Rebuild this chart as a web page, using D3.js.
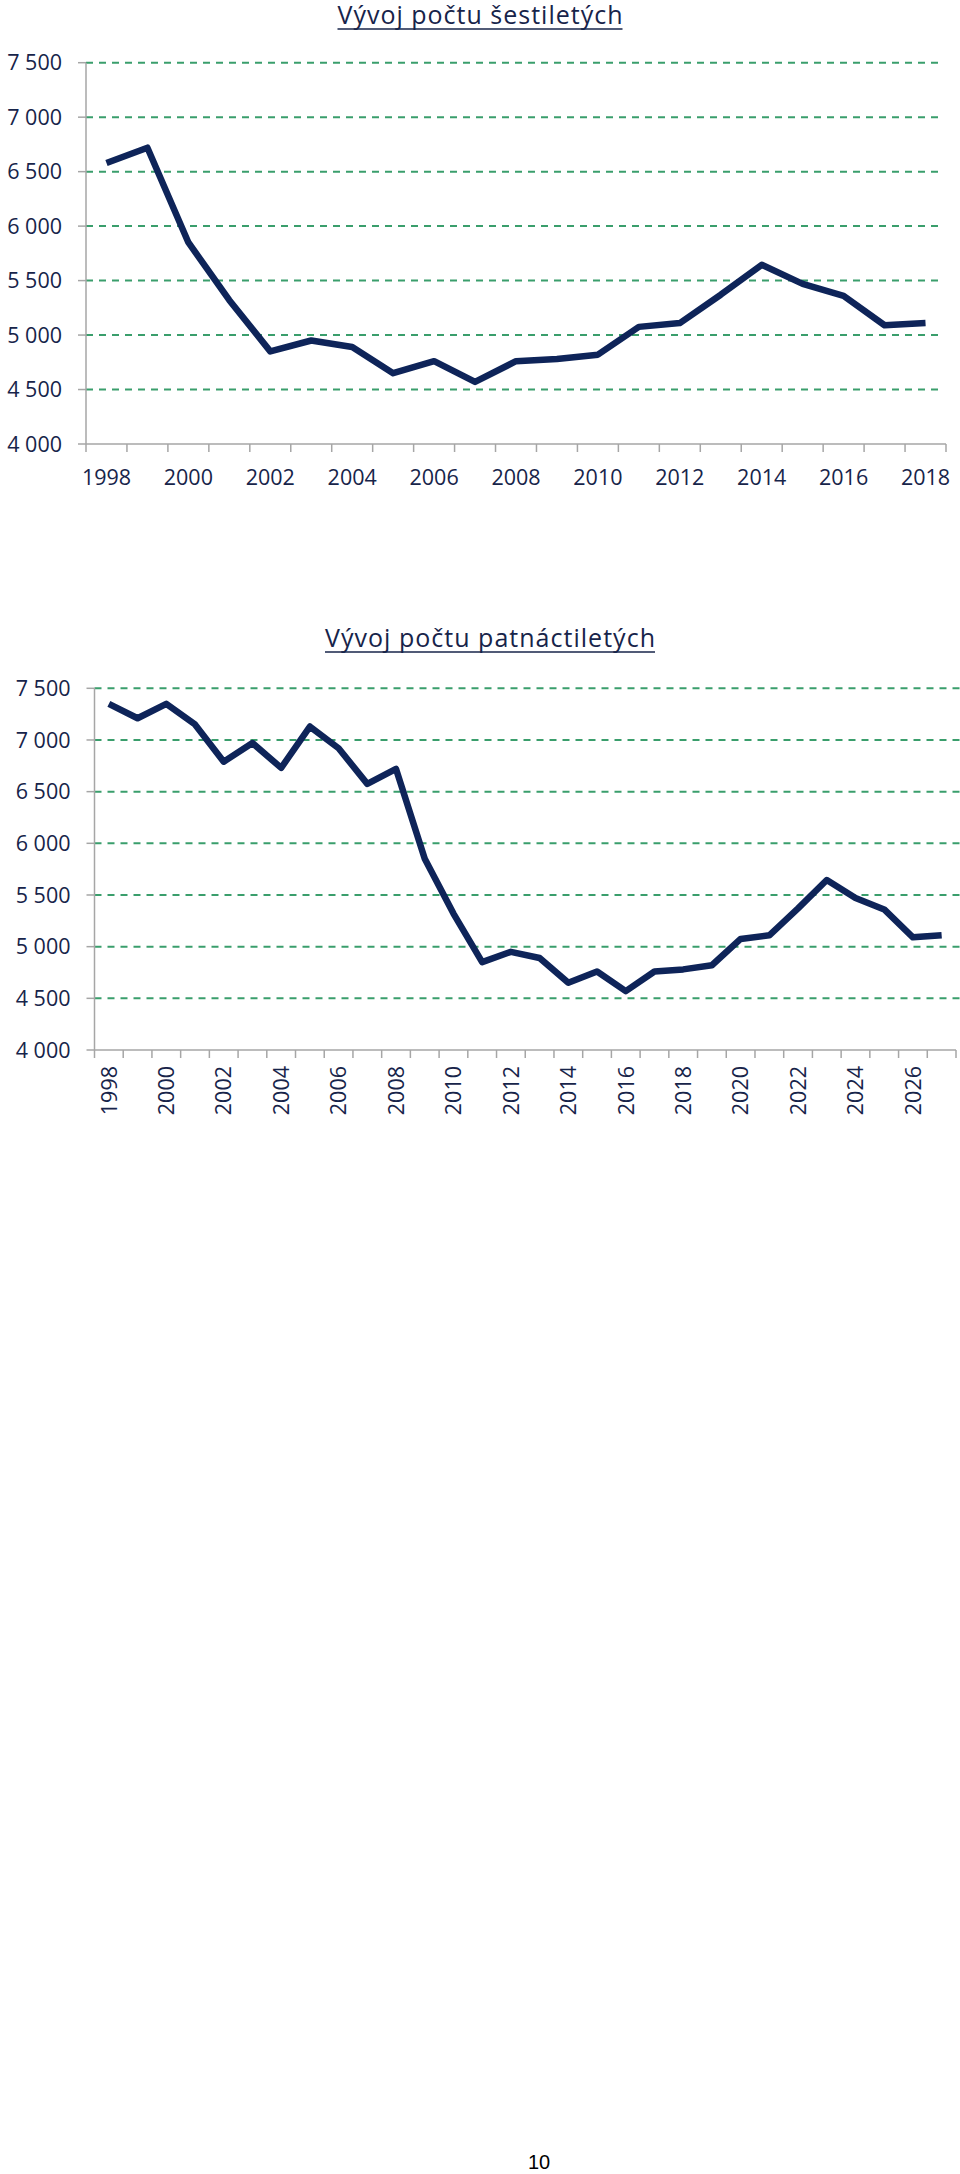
<!DOCTYPE html>
<html>
<head>
<meta charset="utf-8">
<script src="https://cdn.jsdelivr.net/npm/d3@7"></script>
<style>
  html, body { margin: 0; padding: 0; background: #ffffff; }
  svg { display: block; }
</style>
</head>
<body>
<svg id="page" width="960" height="2174"></svg>
<script>
// ---- data ----
const title1 = "Vývoj počtu šestiletých";
const years1 = [1998,1999,2000,2001,2002,2003,2004,2005,2006,2007,2008,2009,2010,2011,2012,2013,2014,2015,2016,2017,2018];
const sixYearOlds = [6580,6720,5850,5320,4850,4950,4890,4650,4760,4570,4760,4780,4820,5075,5110,5370,5645,5470,5360,5090,5110];

const title2 = "Vývoj počtu patnáctiletých";
const years2 = [1998,1999,2000,2001,2002,2003,2004,2005,2006,2007,2008,2009,2010,2011,2012,2013,2014,2015,2016,2017,2018,2019,2020,2021,2022,2023,2024,2025,2026,2027];
const fifteenYearOlds = [7350,7210,7350,7150,6790,6970,6730,7130,6920,6575,6720,5850,5320,4850,4950,4890,4650,4760,4570,4760,4780,4820,5075,5110,5370,5645,5470,5360,5090,5110];

const yTicks = [4000,4500,5000,5500,6000,6500,7000,7500];
const pageNumber = "10";

// ---- styles ----
const FONT = "'Open Sans', sans-serif";
const TEXT = "#17244a";
const LINE = "#0e2459";
const GRID = "#3a9e6c";
const AXIS = "#a6a6a6";

const fmt = d3.formatLocale({decimal: ",", thousands: "\u00a0", grouping: [3], currency: ["", ""]}).format(",d");
const svg = d3.select("#page");

function drawChart(cfg) {
  const g = svg.append("g");
  const x = d3.scaleBand().domain(cfg.years).range([cfg.left, cfg.right]).padding(0);
  const y = d3.scaleLinear().domain([4000, 7500]).range([cfg.bottom, cfg.top]);

  // title
  g.append("text")
    .attr("x", cfg.titleX).attr("y", cfg.titleY)
    .attr("text-anchor", "middle")
    .attr("font-family", FONT).attr("font-size", cfg.titleSize)
    .attr("textLength", cfg.titleWidth).attr("lengthAdjust", "spacing")
    .attr("fill", TEXT)
    .text(cfg.title);
  g.append("line")
    .attr("x1", cfg.titleX - cfg.titleWidth / 2).attr("x2", cfg.titleX + cfg.titleWidth / 2)
    .attr("y1", cfg.titleY + 5).attr("y2", cfg.titleY + 5)
    .attr("stroke", TEXT).attr("stroke-width", 1.5);

  // gridlines (except baseline)
  g.append("g").selectAll("line").data(yTicks.filter(d => d > 4000)).join("line")
    .attr("x1", cfg.left).attr("x2", cfg.gridRight)
    .attr("y1", d => y(d)).attr("y2", d => y(d))
    .attr("stroke", GRID).attr("stroke-width", 2)
    .attr("stroke-dasharray", "7,6");

  // y tick marks
  g.append("g").selectAll("line").data(yTicks).join("line")
    .attr("x1", cfg.left - 8).attr("x2", cfg.left)
    .attr("y1", d => y(d)).attr("y2", d => y(d))
    .attr("stroke", AXIS).attr("stroke-width", 1.5);

  // y labels
  g.append("g").selectAll("text").data(yTicks).join("text")
    .attr("x", cfg.left - 24).attr("y", d => y(d))
    .attr("dy", "0.36em")
    .attr("text-anchor", "end")
    .attr("font-family", FONT).attr("font-size", 21.5)
    .attr("fill", TEXT)
    .text(d => fmt(d));

  // axes lines
  g.append("line")
    .attr("x1", cfg.left).attr("x2", cfg.left)
    .attr("y1", y(7500)).attr("y2", cfg.bottom)
    .attr("stroke", AXIS).attr("stroke-width", 1.5);
  g.append("line")
    .attr("x1", cfg.left).attr("x2", cfg.right)
    .attr("y1", cfg.bottom).attr("y2", cfg.bottom)
    .attr("stroke", AXIS).attr("stroke-width", 1.5);

  // x tick marks between categories
  const bounds = cfg.years.map(d => x(d)).concat([x(cfg.years[cfg.years.length - 1]) + x.bandwidth()]);
  g.append("g").selectAll("line").data(bounds).join("line")
    .attr("x1", d => d).attr("x2", d => d)
    .attr("y1", cfg.bottom).attr("y2", cfg.bottom + 8)
    .attr("stroke", AXIS).attr("stroke-width", 1.5);

  // x labels every 2 years
  const labYears = cfg.years.filter((d, i) => i % 2 === 0);
  const xl = g.append("g").selectAll("text").data(labYears).join("text")
    .attr("font-family", FONT).attr("font-size", 21.5)
    .attr("fill", TEXT)
    .text(d => d);
  if (cfg.rotate) {
    xl.attr("text-anchor", "end")
      .attr("transform", d => `translate(${x(d) + x.bandwidth() / 2},${cfg.bottom + 16}) rotate(-90)`)
      .attr("dy", "0.36em");
  } else {
    xl.attr("text-anchor", "middle")
      .attr("x", d => x(d) + x.bandwidth() / 2)
      .attr("y", cfg.bottom + 41);
  }

  // data line
  const line = d3.line()
    .x((d, i) => x(cfg.years[i]) + x.bandwidth() / 2)
    .y(d => y(d));
  g.append("path")
    .datum(cfg.values)
    .attr("d", line)
    .attr("fill", "none")
    .attr("stroke", LINE)
    .attr("stroke-width", 6.5)
    .attr("stroke-linejoin", "round")
    .attr("stroke-linecap", "butt");
}

drawChart({
  title: title1, titleX: 480, titleY: 24, titleSize: 25, titleWidth: 285,
  years: years1, values: sixYearOlds,
  left: 86, right: 946, gridRight: 944,
  top: 62.7, bottom: 444, rotate: false
});

drawChart({
  title: title2, titleX: 490, titleY: 647, titleSize: 25, titleWidth: 330,
  years: years2, values: fifteenYearOlds,
  left: 94.5, right: 956, gridRight: 960,
  top: 688.3, bottom: 1050, rotate: true
});

svg.append("text")
  .attr("x", 539).attr("y", 2169)
  .attr("text-anchor", "middle")
  .attr("font-family", "Liberation Sans, Arial, sans-serif")
  .attr("font-size", 20)
  .attr("fill", "#000")
  .text(pageNumber);
</script>
</body>
</html>
